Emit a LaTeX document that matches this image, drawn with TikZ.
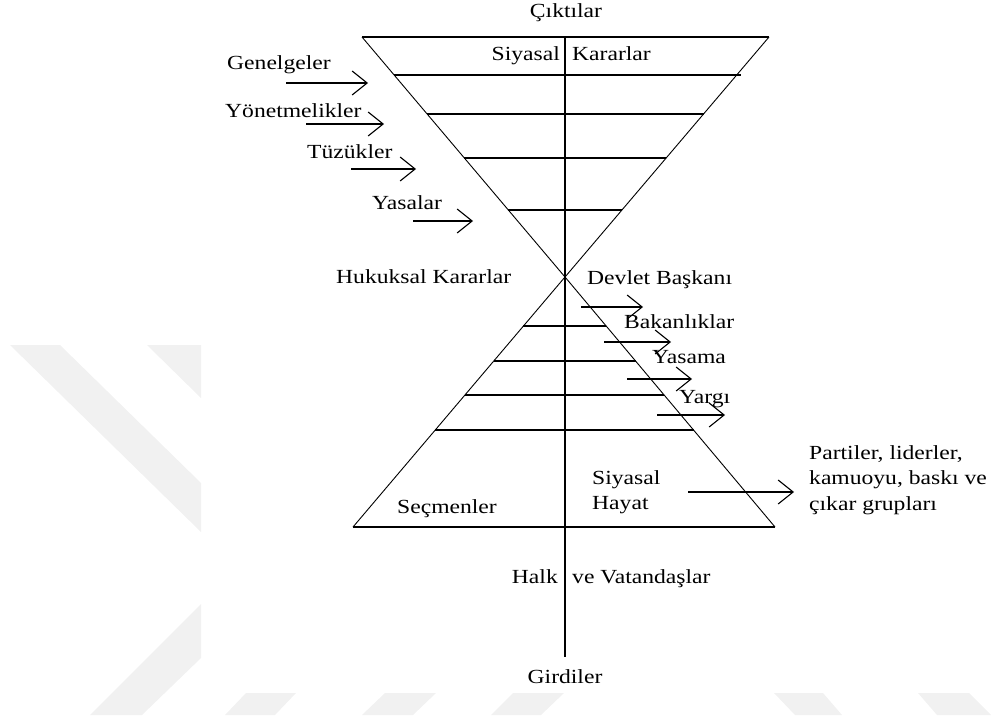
\documentclass[tikz,border=0pt]{standalone}
\usepackage{fontspec}
\setmainfont{Liberation Serif}[FakeStretch=1.18]
\usetikzlibrary{arrows.meta,calc}
\definecolor{wm}{RGB}{241,241,241}
\begin{document}
\begin{tikzpicture}[x=1pt,y=-1pt,
  lbl/.style={inner sep=0pt, font=\fontsize{20}{26}\selectfont, text height=1.5ex, text depth=.25ex},
  mlbl/.style={inner sep=0pt, font=\fontsize{20}{25.5}\selectfont, align=left},
  ln/.style={line width=1.3pt},
  dg/.style={line width=0.9pt},
  arr/.style={line width=1.1pt, -{Straight Barb[length=15pt,width=24pt]}}]
\useasboundingbox (0,0) rectangle (993,720);
% watermark
\fill[wm] (10,345) -- (60,345) -- (201,483) -- (201,532) -- cycle;
\fill[wm] (147,345) -- (201,345) -- (201,398) -- cycle;
\fill[wm] (90,715) -- (142,715) -- (201,658) -- (201,604) -- cycle;
\fill[wm] (225,715) -- (275,715) -- (296,693) -- (246,693) -- cycle;
\fill[wm] (362,715) -- (413,715) -- (436,693) -- (385,693) -- cycle;
\fill[wm] (491,715) -- (541,715) -- (564,693) -- (513,693) -- cycle;
\fill[wm] (795,715) -- (842,715) -- (823,693) -- (774,693) -- cycle;
\fill[wm] (937,715) -- (991,715) -- (969,693) -- (918,693) -- cycle;
% geometry
\coordinate (TL) at (362,37);
\coordinate (TR) at (769,37);
\coordinate (X) at (565,277);
\coordinate (BL) at (353,527);
\coordinate (BR) at (775,527);
\coordinate (VT) at (565,37);
\coordinate (VB) at (565,657);
\draw[ln] (TL) -- (TR);
\draw[dg] (TL) -- (X) -- (BR);
\draw[dg] (TR) -- (X) -- (BL);
\draw[ln] (BL) -- (BR);
\draw[ln] (VT) -- (VB);
% top rungs
\draw[ln] ($(TL)!0.158!(X)$) -- ($(TR)!0.158!(X)$) -- ++(4,0);
\foreach \t in {0.321,0.504,0.721}
  \draw[ln] ($(TL)!\t!(X)$) -- ($(TR)!\t!(X)$);
% bottom rungs
\foreach \t in {0.196,0.336,0.472,0.612}
  \draw[ln] ($(X)!\t!(BL)$) -- ($(X)!\t!(BR)$);
% labels
\node[lbl] (cikti) at (566,15) {Çıktılar};
\node[lbl, anchor=east] (siy) at (560,58) {Siyasal};
\node[lbl, anchor=west] (kar) at (572,58) {Kararlar};
\node[lbl, anchor=west] (gen) at (227,67) {Genelgeler};
\node[lbl, anchor=west] (yon) at (225,115) {Yönetmelikler};
\node[lbl, anchor=west] (tuz) at (307,156) {Tüzükler};
\node[lbl, anchor=west] (yas) at (372,207) {Yasalar};
\node[lbl, anchor=west] (huk) at (336,281) {Hukuksal Kararlar};
\node[lbl, anchor=west] (dev) at (587,282) {Devlet Başkanı};
\node[lbl, anchor=west] (bak) at (624,326) {Bakanlıklar};
\node[lbl, anchor=west] (yasama) at (652,361) {Yasama};
\node[lbl, anchor=west] (yargi) at (679,401) {Yargı};
\node[mlbl, anchor=west] (hayat) at (592,492) {Siyasal\\Hayat};
\node[lbl, anchor=west] (secm) at (397,511) {Seçmenler};
\node[mlbl, anchor=west] (parti) at (809,480) {Partiler, liderler,\\kamuoyu, baskı ve\\çıkar grupları};
\node[lbl, anchor=east] (halk) at (558,581) {Halk};
\node[lbl, anchor=west] (vat) at (572,581) {ve Vatandaşlar};
\node[lbl] (gird) at (565,681) {Girdiler};
% arrows
\coordinate (a1s) at (286,83);  \coordinate (a1e) at (368,83);
\coordinate (a2s) at (306,124); \coordinate (a2e) at (384,124);
\coordinate (a3s) at (351,169); \coordinate (a3e) at (416,169);
\coordinate (a4s) at (413,221); \coordinate (a4e) at (473,221);
\coordinate (b1s) at (581,307); \coordinate (b1e) at (643,307);
\coordinate (b2s) at (604,342); \coordinate (b2e) at (671,342);
\coordinate (b3s) at (627,379); \coordinate (b3e) at (692,379);
\coordinate (b4s) at (657,415); \coordinate (b4e) at (725,415);
\coordinate (c1s) at (688,492); \coordinate (c1e) at (794,492);
\foreach \s/\e in {a1s/a1e,a2s/a2e,a3s/a3e,a4s/a4e,b1s/b1e,b2s/b2e,b3s/b3e,b4s/b4e,c1s/c1e}
  \draw[arr] (\s) -- (\e);
\end{tikzpicture}
\end{document}
